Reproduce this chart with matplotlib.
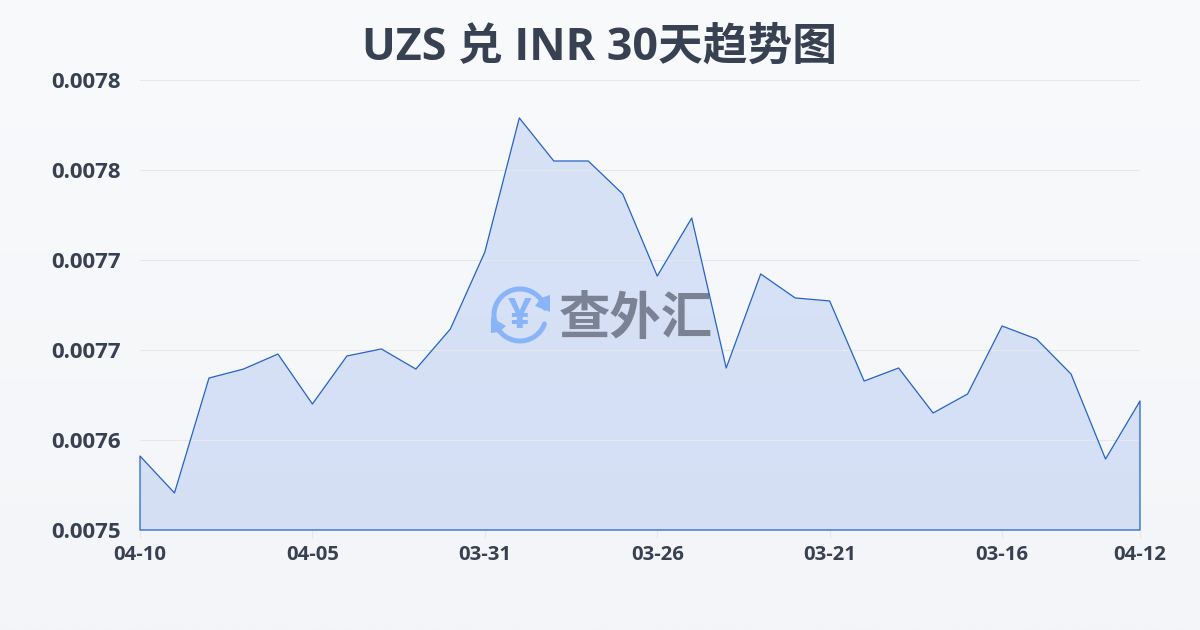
import numpy as np
import matplotlib
matplotlib.use('Agg')
import matplotlib.pyplot as plt
from matplotlib.patches import Polygon
from matplotlib.transforms import Affine2D

plt.rcParams['font.family'] = ['Open Sans', 'Noto Sans CJK SC', 'DejaVu Sans']

TITLE = 'UZS 兑 INR 30天趋势图'
RATES = [
    0.0075893, 0.0075647, 0.0076413, 0.0076473, 0.0076573, 0.0076240,
    0.0076560, 0.0076607, 0.0076473, 0.0076740, 0.0077253, 0.0078147,
    0.0077860, 0.0077860, 0.0077640, 0.0077093, 0.0077480, 0.0076480,
    0.0077107, 0.0076947, 0.0076927, 0.0076393, 0.0076480, 0.0076180,
    0.0076307, 0.0076760, 0.0076673, 0.0076440, 0.0075873, 0.0076260,
]
X_TICKS = [0, 5, 10, 15, 20, 25, 29]
X_LABELS = ['04-10', '04-05', '03-31', '03-26', '03-21', '03-16', '04-12']
Y_TICKS = [0.00754, 0.00760, 0.00766, 0.00772, 0.00778, 0.00784]
Y_LABELS = ['0.0075', '0.0076', '0.0077', '0.0077', '0.0078', '0.0078']

TEXT = '#374151'
LINE = '#2563c9'
LOGO = '#8ab4f8'

fig = plt.figure(figsize=(12, 6.3), dpi=100)

# background gradient
bg = fig.add_axes([0, 0, 1, 1], zorder=0)
grad = np.linspace(0, 1, 256).reshape(-1, 1, 1)
top = np.array([0xf8, 0xfa, 0xfc]) / 255
bottom = np.array([0xf3, 0xf5, 0xf8]) / 255
bg.imshow(top + grad * (bottom - top), aspect='auto', extent=[0, 1, 0, 1])
bg.axis('off')

ax = fig.add_axes([140 / 1200, 100 / 630, 1000 / 1200, 450 / 630], zorder=1)
ax.patch.set_alpha(0)
x = np.arange(len(RATES))

ax.fill_between(x, RATES, Y_TICKS[0], facecolor='#2a62e0', alpha=0.15, linewidth=0, zorder=1)
ax.fill_between(x, RATES, Y_TICKS[0], facecolor='none', edgecolor=LINE, linewidth=0.9, zorder=4, clip_on=False)

ax.set_xlim(0, 29)
ax.set_ylim(Y_TICKS[0], Y_TICKS[-1])
ax.set_xticks(X_TICKS, X_LABELS)
ax.set_yticks(Y_TICKS, Y_LABELS)
ax.grid(axis='y', color='#e5e7eb', linewidth=0.8, zorder=0)
ax.tick_params(axis='x', length=6, width=0.8, color='#e5e7eb', labelsize=14.6, labelcolor=TEXT, pad=5)
ax.tick_params(axis='y', length=0, labelsize=16, labelcolor=TEXT, pad=13.7)
for lab in ax.get_xticklabels() + ax.get_yticklabels():
    lab.set_fontweight('bold')
for s in ax.spines.values():
    s.set_visible(False)

# watermark, placed in pixel coordinates of the picture
px = Affine2D().scale(1 / 1200, -1 / 630).translate(0, 1) + fig.transFigure
cx, cy, r = 520, 315, 26
for a0, a1 in [(-200, -15), (20, 165)]:
    t = np.radians(np.linspace(a0, a1, 60))
    ax.plot(cx + r * np.cos(t), cy + r * np.sin(t), color=LOGO, lw=3.6,
            solid_capstyle='round', transform=px, zorder=2, clip_on=False)
ax.add_patch(Polygon([(541, 298), (550, 295), (550, 312), (535, 306)], color=LOGO, transform=px, zorder=2, lw=0))
ax.add_patch(Polygon([(491, 317), (506, 326), (499, 332), (491, 333)], color=LOGO, transform=px, zorder=2, lw=0))
ax.text(cx, cy + 2, '¥', transform=px, fontsize=30, fontweight='bold', color=LOGO,
        ha='center', va='center', zorder=2)
ax.text(636, 321, '查外汇', transform=px, fontsize=37, fontweight='bold', color='#7a8294',
        ha='center', va='center', zorder=3)

fig.text(0.5, 1 - 48 / 630, TITLE, fontsize=32.2, fontweight='bold', color=TEXT,
         ha='center', va='center')

fig.savefig('out.png', dpi=100)
